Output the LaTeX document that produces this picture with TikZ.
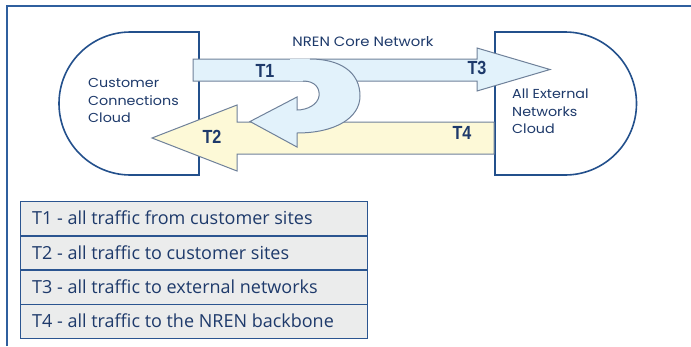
\documentclass[tikz,border=0pt]{standalone}
\usepackage{fontspec}
\setmainfont{Open Sans}
\newfontfamily\geofont[FakeStretch=1.1]{Poppins}
\newfontfamily\labfont{Liberation Sans}
\definecolor{framecol}{HTML}{2F5F9E}
\definecolor{cloudcol}{HTML}{23508C}
\definecolor{arrowline}{HTML}{6F819A}
\definecolor{bluefill}{HTML}{E2F2FB}
\definecolor{yellowfill}{HTML}{FDF9D7}
\definecolor{legfill}{HTML}{EBECEC}
\definecolor{legline}{HTML}{2B5590}
\definecolor{txtcol}{HTML}{1E3A6B}
\begin{document}
\begin{tikzpicture}[x=1pt,y=-1pt,
  cloud/.style={draw=cloudcol,line width=1.6pt,fill=white},
  bluearrow/.style={draw=arrowline,line width=1pt,fill=bluefill,line join=miter},
  yellowarrow/.style={draw=arrowline,line width=1pt,fill=yellowfill,line join=miter},
  tlabel/.style={font=\labfont\bfseries\fontsize{19}{19}\selectfont,text=txtcol,inner sep=0pt},
  cloudtext/.style={font=\geofont\fontsize{13}{17.5}\selectfont,text=txtcol,align=left,inner sep=0pt},
  legrow/.style={draw=legline,line width=1.4pt,fill=legfill,minimum width=347pt,minimum height=34pt,inner sep=0pt,anchor=north west},
  legtext/.style={font=\fontsize{18}{18}\selectfont,text=txtcol,inner sep=0pt,anchor=west}
]
\useasboundingbox (0,0) rectangle (691,346);
% frame
\draw[framecol,line width=2pt] (7,346) -- (7,6) -- (691,6);
% clouds
\draw[cloud] (199,32) -- (130.5,32) arc (270:90:71.5) -- (199,175) -- cycle;
\draw[cloud] (495,32) -- (565,32) arc (-90:90:71.5) -- (495,175) -- cycle;
\node[cloudtext,anchor=west] (cc) at (88,100.5) {Customer\\Connections\\Cloud};
\node[cloudtext,anchor=west] (ae) at (512,111.5) {All External\\Networks\\Cloud};
\node[font=\geofont\fontsize{13.5}{13.5}\selectfont,text=txtcol,inner sep=0pt] (core) at (363,42) {NREN Core Network};
% T1/T3 band
\draw[bluearrow] (193,59) -- (477,59) -- (477,48) -- (550,69.5) -- (477,91) -- (477,81) -- (193,81) -- cycle;
% T2/T4 band
\draw[yellowarrow] (494,122) -- (237,122) -- (237,105) -- (152,138) -- (237,171) -- (237,154) -- (494,154) -- cycle;
% U-turn
\fill[bluefill] (303,81) .. controls (315,81) and (320,88) .. (319,96) .. controls (318,104) and (308,110) .. (297,110)
  -- (297,97) -- (250,121.5) -- (297,147) -- (297,133)
  .. controls (335,133) and (360,118) .. (360,96) .. controls (360,72) and (340,59) .. (310,59)
  -- (290,59) -- (290,81) -- cycle;
\draw[draw=arrowline,line width=1pt,line join=miter] (303,81) .. controls (315,81) and (320,88) .. (319,96) .. controls (318,104) and (308,110) .. (297,110)
  -- (297,97) -- (250,121.5) -- (297,147) -- (297,133)
  .. controls (335,133) and (360,118) .. (360,96) .. controls (360,72) and (340,59) .. (310,59);
% labels
\node[tlabel] (t1) at (265,71) {\scalebox{0.85}[1]{T1}};
\node[tlabel] (t2) at (212,137) {\scalebox{0.85}[1]{T2}};
\node[tlabel] (t3) at (477,68) {\scalebox{0.85}[1]{T3}};
\node[tlabel] (t4) at (462,133) {\scalebox{0.85}[1]{T4}};
% legend
\node[legrow] (r1) at (20,201) {};
\node[legrow] (r2) at (20,235.25) {};
\node[legrow] (r3) at (20,269.5) {};
\node[legrow] (r4) at (20,303.75) {};
\node[legtext] (l1) at (32,218.1) {T1 - all traffic from customer sites};
\node[legtext] (l2) at (32,252.4) {T2 - all traffic to customer sites};
\node[legtext] (l3) at (32,286.6) {T3 - all traffic to external networks};
\node[legtext] (l4) at (32,320.9) {T4 - all traffic to the NREN backbone};
\end{tikzpicture}
\end{document}
